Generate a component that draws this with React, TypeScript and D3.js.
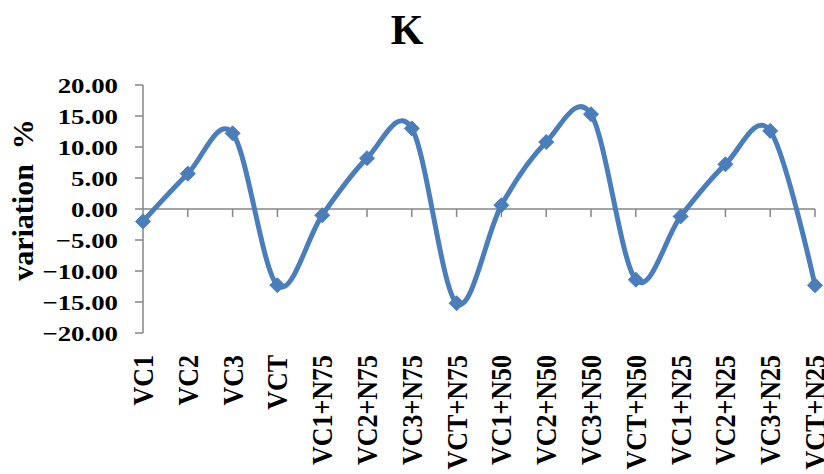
import React, { useEffect, useRef } from 'react';
import * as d3 from 'd3';

const categories = [
  'VC1', 'VC2', 'VC3', 'VCT',
  'VC1+N75', 'VC2+N75', 'VC3+N75', 'VCT+N75',
  'VC1+N50', 'VC2+N50', 'VC3+N50', 'VCT+N50',
  'VC1+N25', 'VC2+N25', 'VC3+N25', 'VCT+N25'
];
const values = [
  -2.0, 5.7, 12.2, -12.3,
  -1.0, 8.2, 13.0, -15.2,
  0.6, 10.8, 15.3, -11.4,
  -1.2, 7.2, 12.6, -12.3
];
const yTicks = [20, 15, 10, 5, 0, -5, -10, -15, -20];
const title = 'K';
const yLabel = 'variation  %';

const App = () => {
  const svgRef = useRef<SVGSVGElement>(null);

  useEffect(() => {
    const width = 824;
    const height = 474;
    const font = '"Liberation Serif", "Times New Roman", serif';
    const axisColor = '#868686';
    const lineColor = '#4a7ebb';

    const svg = d3.select(svgRef.current);
    svg.selectAll('*').remove();
    svg.attr('width', width).attr('height', height);

    const x = d3.scalePoint<string>().domain(categories).range([143, 815]);
    const y = d3.scaleLinear().domain([-20, 20]).range([333, 85]);

    // title
    svg.append('text')
      .attr('x', 407)
      .attr('y', 44)
      .attr('text-anchor', 'middle')
      .attr('font-family', font)
      .attr('font-weight', 'bold')
      .attr('font-size', 42)
      .text(title);

    // y axis label
    svg.append('text')
      .attr('transform', 'translate(33,200) rotate(-90)')
      .attr('text-anchor', 'middle')
      .attr('font-family', font)
      .attr('font-weight', 'bold')
      .attr('font-size', 30)
      .style('white-space', 'pre')
      .text(yLabel);

    // y axis
    svg.append('line')
      .attr('x1', 143).attr('x2', 143)
      .attr('y1', y(20)).attr('y2', y(-20))
      .attr('stroke', axisColor).attr('stroke-width', 1.5);
    svg.selectAll('line.ytick')
      .data(yTicks)
      .enter()
      .append('line')
      .attr('class', 'ytick')
      .attr('x1', 135).attr('x2', 143)
      .attr('y1', d => y(d)).attr('y2', d => y(d))
      .attr('stroke', axisColor).attr('stroke-width', 1.5);
    svg.selectAll('text.ylab')
      .data(yTicks)
      .enter()
      .append('text')
      .attr('class', 'ylab')
      .attr('transform', d => `translate(118,${y(d) + 7.5}) scale(1.22,1)`)
      .attr('text-anchor', 'end')
      .attr('font-family', font)
      .attr('font-weight', 'bold')
      .attr('font-size', 22)
      .text(d => d3.format('.2f')(d));

    // x axis at zero
    svg.append('line')
      .attr('x1', 143).attr('x2', 815)
      .attr('y1', y(0)).attr('y2', y(0))
      .attr('stroke', axisColor).attr('stroke-width', 1.5);
    svg.selectAll('line.xtick')
      .data(categories.slice(1))
      .enter()
      .append('line')
      .attr('class', 'xtick')
      .attr('x1', d => x(d)!).attr('x2', d => x(d)!)
      .attr('y1', y(0)).attr('y2', y(0) + 8)
      .attr('stroke', axisColor).attr('stroke-width', 1.5);

    // category labels
    svg.selectAll('text.xlab')
      .data(categories)
      .enter()
      .append('text')
      .attr('class', 'xlab')
      .attr('transform', d => `translate(${x(d)! + 10},355) scale(1.16,1) rotate(-90)`)
      .attr('text-anchor', 'end')
      .attr('font-family', font)
      .attr('font-weight', 'bold')
      .attr('font-size', 26)
      .text(d => d);

    // smoothed line
    const line = d3.line<number>()
      .x((_, i) => x(categories[i])!)
      .y(d => y(d))
      .curve(d3.curveCardinal.tension(0));

    svg.append('path')
      .datum(values)
      .attr('d', line)
      .attr('fill', 'none')
      .attr('stroke', lineColor)
      .attr('stroke-width', 5);

    // diamond markers
    svg.selectAll('path.marker')
      .data(values)
      .enter()
      .append('path')
      .attr('class', 'marker')
      .attr('transform', (d, i) => `translate(${x(categories[i])},${y(d)})`)
      .attr('d', 'M0,-7.5L7.5,0L0,7.5L-7.5,0Z')
      .attr('fill', lineColor)
      .attr('stroke', lineColor)
      .attr('stroke-width', 1);
  }, []);

  return <svg ref={svgRef} style={{ position: 'absolute', left: 0, top: 0 }}></svg>;
};

export default App;
